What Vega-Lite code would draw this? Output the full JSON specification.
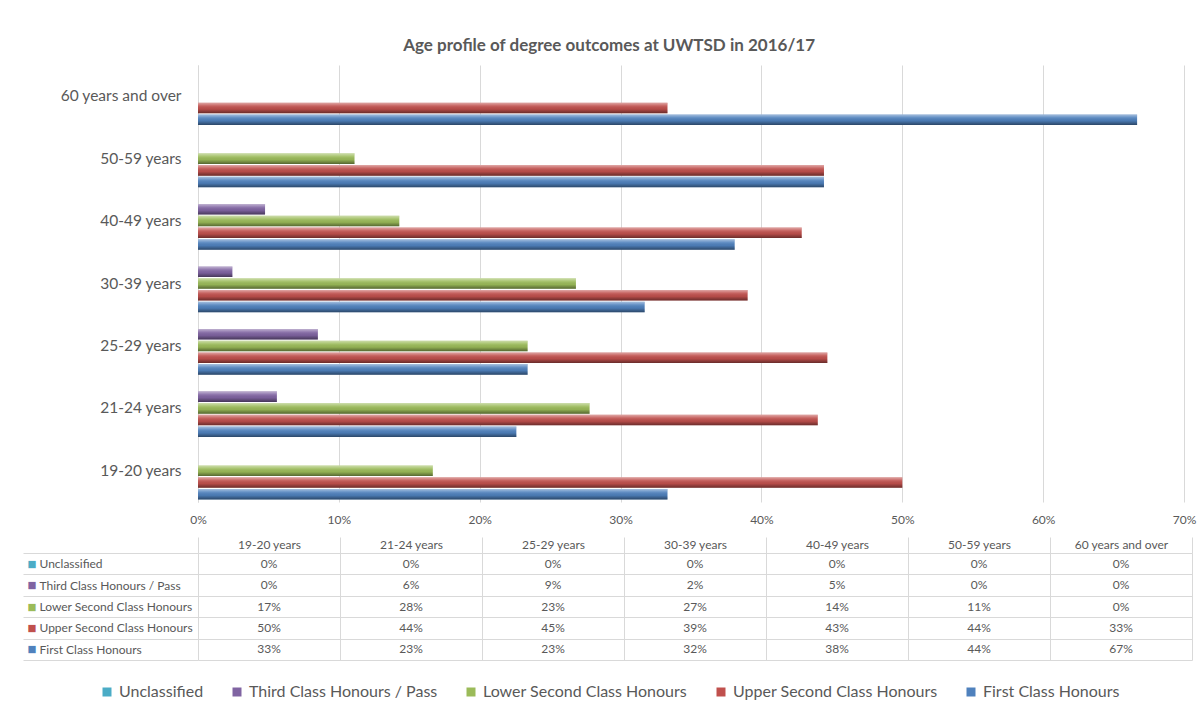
{
  "$schema": "https://vega.github.io/schema/vega-lite/v6.json",
  "background": "white",
  "padding": {"left": 22, "top": 37, "right": 8, "bottom": 4},
  "title": {"text": "Age profile of degree outcomes at UWTSD in 2016/17", "anchor": "middle", "fontSize": 17, "fontWeight": "bold", "font": "Lato", "color": "#595959", "offset": 10},
  "data": {"values": [
    {"a": "19-20 years", "c": "First Class Honours", "v": 0.3333},
    {"a": "19-20 years", "c": "Upper Second Class Honours", "v": 0.5},
    {"a": "19-20 years", "c": "Lower Second Class Honours", "v": 0.1667},
    {"a": "19-20 years", "c": "Third Class Honours / Pass", "v": 0},
    {"a": "19-20 years", "c": "Unclassified", "v": 0},
    {"a": "21-24 years", "c": "First Class Honours", "v": 0.226},
    {"a": "21-24 years", "c": "Upper Second Class Honours", "v": 0.44},
    {"a": "21-24 years", "c": "Lower Second Class Honours", "v": 0.278},
    {"a": "21-24 years", "c": "Third Class Honours / Pass", "v": 0.056},
    {"a": "21-24 years", "c": "Unclassified", "v": 0},
    {"a": "25-29 years", "c": "First Class Honours", "v": 0.234},
    {"a": "25-29 years", "c": "Upper Second Class Honours", "v": 0.4468},
    {"a": "25-29 years", "c": "Lower Second Class Honours", "v": 0.234},
    {"a": "25-29 years", "c": "Third Class Honours / Pass", "v": 0.0851},
    {"a": "25-29 years", "c": "Unclassified", "v": 0},
    {"a": "30-39 years", "c": "First Class Honours", "v": 0.3171},
    {"a": "30-39 years", "c": "Upper Second Class Honours", "v": 0.3902},
    {"a": "30-39 years", "c": "Lower Second Class Honours", "v": 0.2683},
    {"a": "30-39 years", "c": "Third Class Honours / Pass", "v": 0.0244},
    {"a": "30-39 years", "c": "Unclassified", "v": 0},
    {"a": "40-49 years", "c": "First Class Honours", "v": 0.381},
    {"a": "40-49 years", "c": "Upper Second Class Honours", "v": 0.4286},
    {"a": "40-49 years", "c": "Lower Second Class Honours", "v": 0.1429},
    {"a": "40-49 years", "c": "Third Class Honours / Pass", "v": 0.0476},
    {"a": "40-49 years", "c": "Unclassified", "v": 0},
    {"a": "50-59 years", "c": "First Class Honours", "v": 0.4444},
    {"a": "50-59 years", "c": "Upper Second Class Honours", "v": 0.4444},
    {"a": "50-59 years", "c": "Lower Second Class Honours", "v": 0.1111},
    {"a": "50-59 years", "c": "Third Class Honours / Pass", "v": 0},
    {"a": "50-59 years", "c": "Unclassified", "v": 0},
    {"a": "60 years and over", "c": "First Class Honours", "v": 0.6667},
    {"a": "60 years and over", "c": "Upper Second Class Honours", "v": 0.3333},
    {"a": "60 years and over", "c": "Lower Second Class Honours", "v": 0},
    {"a": "60 years and over", "c": "Third Class Honours / Pass", "v": 0},
    {"a": "60 years and over", "c": "Unclassified", "v": 0}
  ]},
  "spacing": 11,
  "vconcat": [
    {
      "width": 986,
      "height": 437,
      "encoding": {
        "y": {"field": "a", "type": "nominal", "title": null,
          "scale": {"domain": ["60 years and over", "50-59 years", "40-49 years", "30-39 years", "25-29 years", "21-24 years", "19-20 years"], "paddingInner": 0.08, "paddingOuter": 0.04},
          "axis": {"labelFontSize": 15.5, "labelColor": "#595959", "labelPadding": 17, "ticks": false, "domain": true, "domainColor": "#d9d9d9", "grid": false}},
        "x": {"field": "v", "type": "quantitative", "title": null,
          "scale": {"domain": [0, 0.7], "nice": false},
          "axis": {"format": ".0%", "values": [0, 0.1, 0.2, 0.3, 0.4, 0.5, 0.6, 0.7], "labelFlush": false, "labelFontSize": 12, "labelColor": "#595959", "labelPadding": 12, "ticks": false, "domain": false, "grid": true, "gridColor": "#d9d9d9"}},
        "yOffset": {"field": "c", "type": "nominal",
          "scale": {"domain": ["Unclassified", "Third Class Honours / Pass", "Lower Second Class Honours", "Upper Second Class Honours", "First Class Honours"], "paddingInner": 0.1}}
      },
      "layer": [
        {
          "mark": {"type": "bar"},
          "encoding": {
            "color": {"field": "c", "type": "nominal",
              "scale": {"domain": ["Unclassified", "Third Class Honours / Pass", "Lower Second Class Honours", "Upper Second Class Honours", "First Class Honours"], "range": ["#4bacc6", "#8064a2", "#9bbb59", "#c0504d", "#4f81bd"]},
              "legend": {"orient": "bottom", "direction": "horizontal", "title": null, "symbolType": "square", "symbolSize": 81, "labelFontSize": 16, "labelColor": "#595959", "columnPadding": 25, "labelLimit": 400, "offset": 23}}
          }
        },
        {
          "mark": {"type": "bar", "color": {"gradient": "linear", "x1": 0, "y1": 0, "x2": 0, "y2": 1, "stops": [
            {"offset": 0, "color": "rgba(255,255,255,0.5)"},
            {"offset": 0.3, "color": "rgba(255,255,255,0.12)"},
            {"offset": 0.6, "color": "rgba(0,0,0,0.05)"},
            {"offset": 1, "color": "rgba(0,0,0,0.45)"}
          ]}},
          "encoding": {}
        }
      ]
    },
    {
      "width": 994,
      "height": 107,
      "encoding": {
        "x": {"field": "a", "type": "nominal", "title": null,
          "scale": {"domain": ["19-20 years", "21-24 years", "25-29 years", "30-39 years", "40-49 years", "50-59 years", "60 years and over"], "paddingInner": 0, "paddingOuter": 0},
          "axis": {"orient": "top", "labelAngle": 0, "tickBand": "extent", "ticks": true, "tickSize": 16, "tickColor": "#d9d9d9", "grid": true, "gridColor": "#d9d9d9", "domain": false, "labelPadding": -14, "labelFontSize": 12, "labelColor": "#595959"}},
        "y": {"field": "c", "type": "nominal", "title": null,
          "scale": {"domain": ["Unclassified", "Third Class Honours / Pass", "Lower Second Class Honours", "Upper Second Class Honours", "First Class Honours"], "paddingInner": 0, "paddingOuter": 0}}
      },
      "layer": [
        {
          "mark": {"type": "text", "fontSize": 12, "color": "#595959"},
          "encoding": {
            "y": {"field": "c", "type": "nominal", "title": null,
              "axis": {"orient": "left", "tickBand": "extent", "ticks": true, "tickSize": 175, "tickColor": "#d9d9d9", "grid": true, "gridColor": "#d9d9d9", "domain": false, "labelAlign": "left", "labelPadding": -16, "labelFontSize": 12, "labelColor": "#595959", "labelLimit": 300}},
            "text": {"field": "v", "type": "quantitative", "format": ".0%"}
          }
        },
        {
          "mark": {"type": "text", "text": ""},
          "encoding": {
            "y": {"field": "c", "type": "nominal", "title": null,
              "axis": {"orient": "left", "labelExpr": "'■'", "ticks": false, "grid": false, "domain": false, "labelAlign": "left", "labelPadding": 171, "labelFontSize": 9.5, "labelFont": "DejaVu Sans",
                "labelColor": {"condition": [
                  {"test": "datum.value === 'Unclassified'", "value": "#4bacc6"},
                  {"test": "datum.value === 'Third Class Honours / Pass'", "value": "#8064a2"},
                  {"test": "datum.value === 'Lower Second Class Honours'", "value": "#9bbb59"},
                  {"test": "datum.value === 'Upper Second Class Honours'", "value": "#c0504d"}
                ], "value": "#4f81bd"}}}
          }
        }
      ],
      "resolve": {"axis": {"y": "independent"}}
    }
  ],
  "config": {
    "font": "Lato",
    "view": {"stroke": null},
    "legend": {"layout": {"bottom": {"anchor": "middle"}}}
  }
}
